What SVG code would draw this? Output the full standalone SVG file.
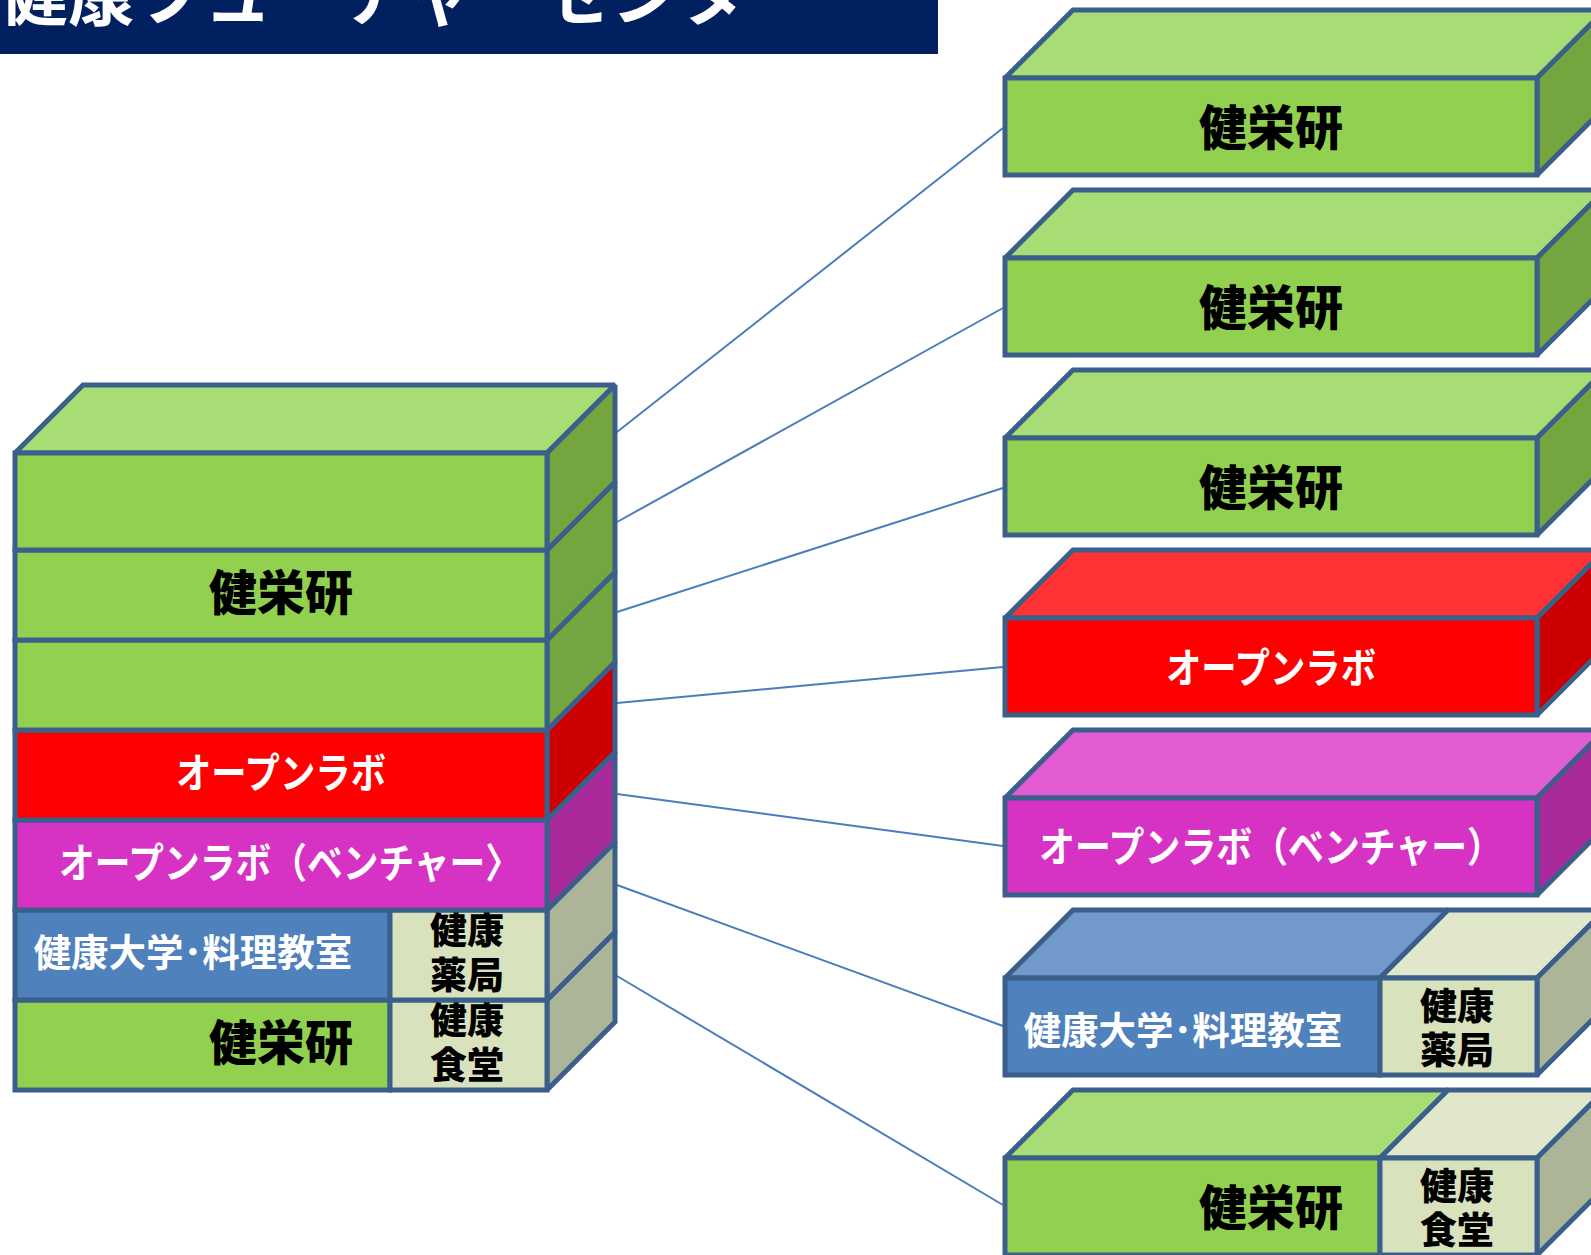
<svg xmlns="http://www.w3.org/2000/svg" width="1591" height="1255" viewBox="0 0 1591 1255">
<style>
.s{stroke:#3a5f8b;stroke-width:5;stroke-linejoin:miter;stroke-miterlimit:2}
.g{fill:#92d050}.gt{fill:#a8dc74}.gs{fill:#75a53f}
.r{fill:#ff0000}.rt{fill:#ff3333}.rs{fill:#cc0000}
.m{fill:#d633c4}.mt{fill:#e05cd0}.ms{fill:#aa2a9c}
.b{fill:#4f81bd}.bt{fill:#7299cc}
.c{fill:#d8e2bc}.ct{fill:#e0e7ca}.cs{fill:#adb598}
text{font-family:"Noto Sans CJK JP","Noto Sans CJK SC",sans-serif;font-weight:700;text-anchor:middle}
.k{fill:#000;font-size:48px;font-weight:900}.w{fill:#fff;font-size:41px}.kc{fill:#000;font-size:37px;font-weight:900}.ws{fill:#fff;font-size:37.5px}
#conn line{stroke:#4a7ebb;stroke-width:2}
</style>
<g id="title"><rect x="0" y="0" width="938" height="54" fill="#002060"/>
<text x="0" y="20" style="text-anchor:start;font-size:68px;fill:#fff">健康フューチャーセンター</text></g>
<g id="conn">
<line x1="617" y1="432" x2="1003" y2="128"/>
<line x1="617" y1="522" x2="1003" y2="308"/>
<line x1="617" y1="612" x2="1003" y2="488"/>
<line x1="617" y1="703" x2="1003" y2="667"/>
<line x1="617" y1="794" x2="1003" y2="846"/>
<line x1="617" y1="885" x2="1003" y2="1026"/>
<line x1="617" y1="976" x2="1003" y2="1205"/>
</g>
<g id="stack">
<g id="stack-7"><polygon class="s cs" points="547,1000 615,932 615,1022 547,1090"/><rect class="s g" x="15" y="1000" width="375" height="90"/><rect class="s c" x="390" y="1000" width="157" height="90"/><text class="k" x="281" y="1060">健栄研</text><text class="kc" x="467" y="1034">健康</text><text class="kc" x="467" y="1079">食堂</text></g>
<g id="stack-6"><polygon class="s cs" points="547,910 615,842 615,932 547,1000"/><rect class="s b" x="15" y="910" width="375" height="90"/><rect class="s c" x="390" y="910" width="157" height="90"/><text class="ws" x="193" y="966">健康大学･料理教室</text><text class="kc" x="467" y="944">健康</text><text class="kc" x="467" y="989">薬局</text></g>
<g id="stack-5"><polygon class="s ms" points="547,820 615,752 615,842 547,910"/><rect class="s m" x="15" y="820" width="532" height="90"/><text class="w" x="290" y="878" textLength="462" lengthAdjust="spacingAndGlyphs">オープンラボ（ベンチャー〉</text></g>
<g id="stack-4"><polygon class="s rs" points="547,730 615,662 615,752 547,820"/><rect class="s r" x="15" y="730" width="532" height="90"/><text class="w" x="281" y="788" textLength="210" lengthAdjust="spacingAndGlyphs">オープンラボ</text></g>
<g id="stack-3"><polygon class="s gs" points="547,640 615,572 615,662 547,730"/><rect class="s g" x="15" y="640" width="532" height="90"/></g>
<g id="stack-2"><polygon class="s gs" points="547,550 615,482 615,572 547,640"/><rect class="s g" x="15" y="550" width="532" height="90"/><text class="k" x="281" y="610">健栄研</text></g>
<g id="stack-1"><polygon class="s gt" points="15,453 83,385 615,385 547,453"/><polygon class="s gs" points="547,453 615,385 615,482 547,550"/><rect class="s g" x="15" y="453" width="532" height="97"/></g>
</g>
<g id="box-1"><polygon class="s gt" points="1005,78 1073,10 1605,10 1537,78"/><polygon class="s gs" points="1537,78 1605,10 1605,107 1537,175"/><rect class="s g" x="1005" y="78" width="532" height="97"/><text class="k" x="1271" y="145">健栄研</text></g>
<g id="box-2"><polygon class="s gt" points="1005,258 1073,190 1605,190 1537,258"/><polygon class="s gs" points="1537,258 1605,190 1605,287 1537,355"/><rect class="s g" x="1005" y="258" width="532" height="97"/><text class="k" x="1271" y="325">健栄研</text></g>
<g id="box-3"><polygon class="s gt" points="1005,438 1073,370 1605,370 1537,438"/><polygon class="s gs" points="1537,438 1605,370 1605,467 1537,535"/><rect class="s g" x="1005" y="438" width="532" height="97"/><text class="k" x="1271" y="505">健栄研</text></g>
<g id="box-4"><polygon class="s rt" points="1005,618 1073,550 1605,550 1537,618"/><polygon class="s rs" points="1537,618 1605,550 1605,647 1537,715"/><rect class="s r" x="1005" y="618" width="532" height="97"/><text class="w" x="1271" y="683" textLength="210" lengthAdjust="spacingAndGlyphs">オープンラボ</text></g>
<g id="box-5"><polygon class="s mt" points="1005,798 1073,730 1605,730 1537,798"/><polygon class="s ms" points="1537,798 1605,730 1605,827 1537,895"/><rect class="s m" x="1005" y="798" width="532" height="97"/><text class="w" x="1271" y="862" textLength="464" lengthAdjust="spacingAndGlyphs">オープンラボ（ベンチャー）</text></g>
<g id="box-6"><polygon class="s bt" points="1005,978 1073,910 1448,910 1380,978"/><polygon class="s ct" points="1380,978 1448,910 1605,910 1537,978"/><polygon class="s cs" points="1537,978 1605,910 1605,1007 1537,1075"/><rect class="s b" x="1005" y="978" width="375" height="97"/><rect class="s c" x="1380" y="978" width="157" height="97"/><text class="ws" x="1183" y="1044">健康大学･料理教室</text><text class="kc" x="1457" y="1020">健康</text><text class="kc" x="1457" y="1064">薬局</text></g>
<g id="box-7"><polygon class="s gt" points="1005,1158 1073,1090 1448,1090 1380,1158"/><polygon class="s ct" points="1380,1158 1448,1090 1605,1090 1537,1158"/><polygon class="s cs" points="1537,1158 1605,1090 1605,1187 1537,1255"/><rect class="s g" x="1005" y="1158" width="375" height="97"/><rect class="s c" x="1380" y="1158" width="157" height="97"/><text class="k" x="1271" y="1225">健栄研</text><text class="kc" x="1457" y="1200">健康</text><text class="kc" x="1457" y="1244">食堂</text></g>
</svg>
